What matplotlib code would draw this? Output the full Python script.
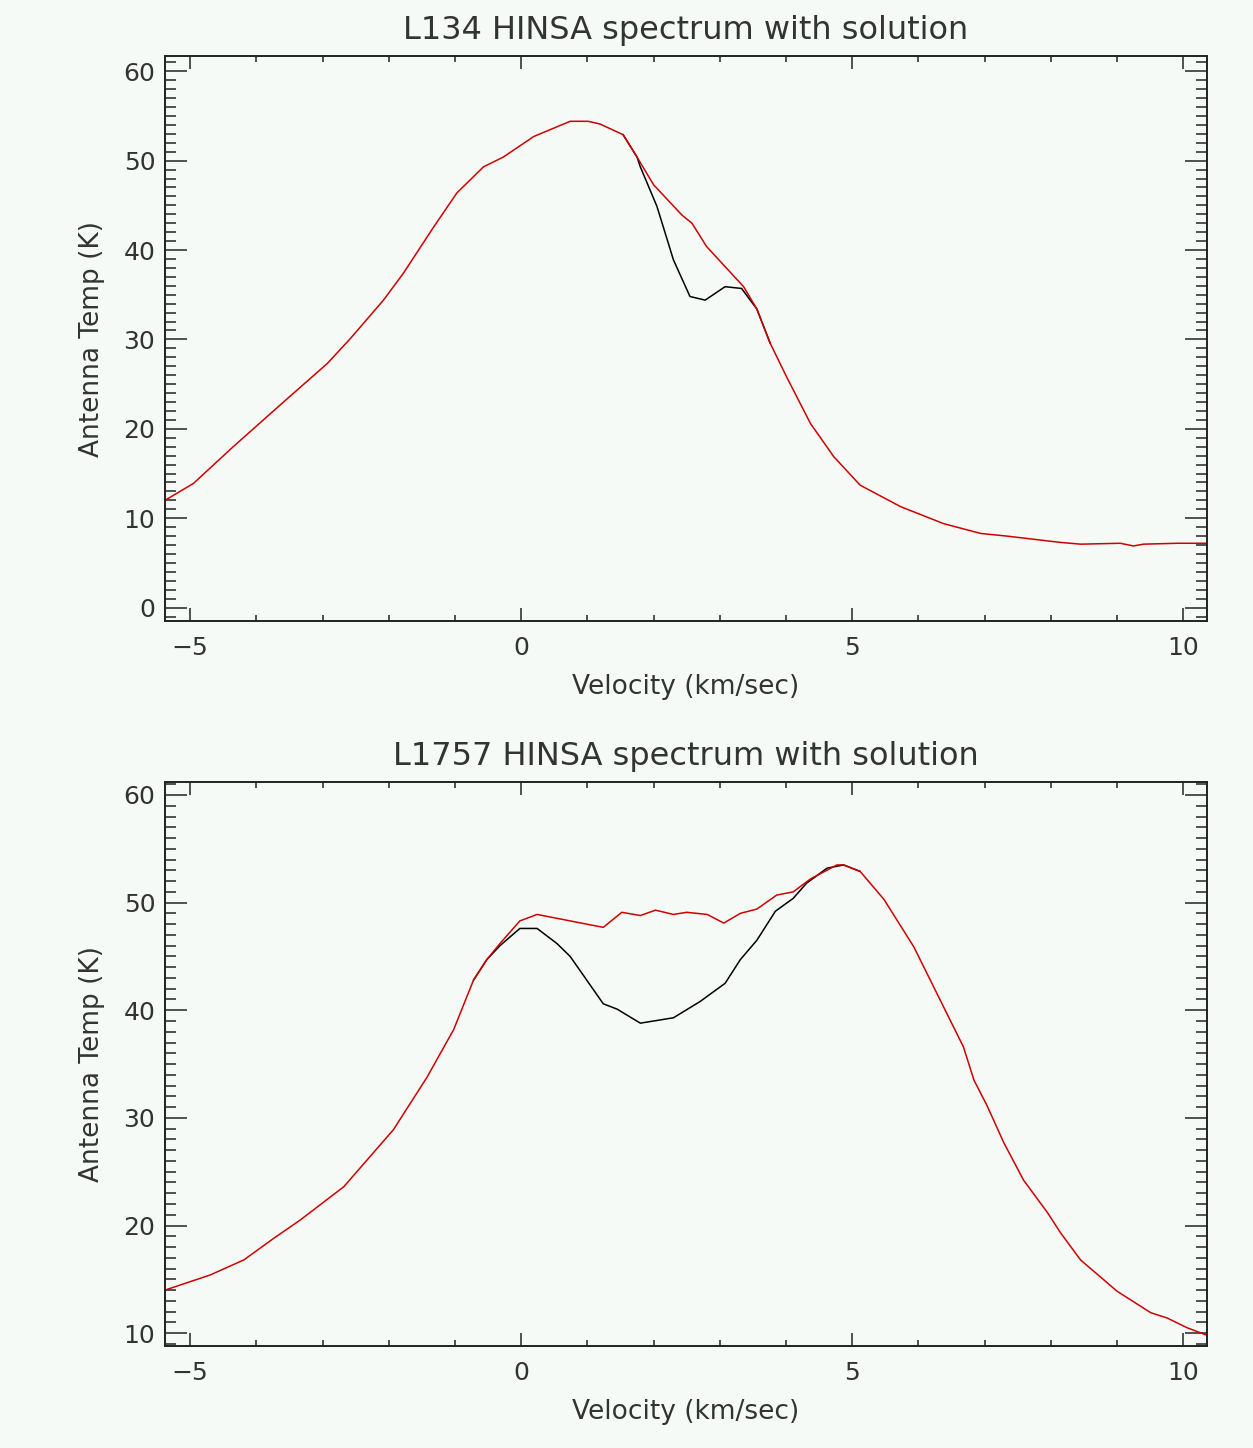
import matplotlib
matplotlib.use("Agg")
import matplotlib.pyplot as plt
from matplotlib.ticker import MultipleLocator

# L134: solution (red) and observed spectrum inside the HINSA dip (black)
v_l134 = [-5.38, -4.95, -4.35, -3.59, -2.93, -2.58, -2.08, -1.78, -1.32, -0.97,
          -0.57, -0.27, 0.19, 0.74, 1.01, 1.19, 1.54, 1.75, 2.00, 2.43,
          2.58, 2.80, 3.36, 3.56, 3.76, 4.01, 4.37, 4.72, 5.12, 5.73,
          6.38, 6.94, 7.34, 8.14, 8.45, 9.05, 9.25, 9.40, 9.91, 10.36]
fit_l134 = [12.0, 13.9, 18.0, 23.0, 27.3, 30.1, 34.4, 37.4, 42.6, 46.4,
            49.3, 50.4, 52.7, 54.4, 54.4, 54.1, 52.9, 50.4, 47.3, 43.9,
            43.0, 40.4, 35.9, 33.4, 29.6, 25.8, 20.6, 16.9, 13.7, 11.3,
            9.4, 8.3, 8.0, 7.3, 7.1, 7.2, 6.9, 7.1, 7.2, 7.2]
v_l134_obs = [1.54, 1.75, 1.80, 2.05, 2.30, 2.55, 2.78, 3.08, 3.33, 3.56, 3.76]
obs_l134 = [52.9, 50.4, 49.3, 44.9, 38.9, 34.8, 34.4, 35.9, 35.7, 33.4, 29.6]

# L1757
v_l1757 = [-5.38, -4.70, -4.19, -3.74, -3.34, -2.68, -1.93, -1.42, -1.02, -0.72,
           -0.52, -0.32, -0.02, 0.24, 1.24, 1.52, 1.80, 2.03, 2.30, 2.50,
           2.81, 3.06, 3.31, 3.56, 3.86, 4.11, 4.37, 4.77, 4.87, 5.12,
           5.48, 5.93, 6.18, 6.43, 6.68, 6.84, 7.04, 7.29, 7.59, 7.95,
           8.15, 8.45, 9.00, 9.51, 9.76, 10.06, 10.36]
fit_l1757 = [14.0, 15.4, 16.8, 18.8, 20.5, 23.6, 28.9, 33.8, 38.2, 42.8,
             44.7, 46.2, 48.3, 48.9, 47.7, 49.1, 48.8, 49.3, 48.9, 49.1,
             48.9, 48.1, 49.0, 49.4, 50.7, 51.0, 52.2, 53.5, 53.5, 52.9,
             50.3, 45.9, 42.8, 39.7, 36.6, 33.5, 31.1, 27.7, 24.2, 21.2,
             19.3, 16.8, 13.9, 11.9, 11.4, 10.5, 9.8]
v_l1757_obs = [-0.72, -0.52, -0.32, -0.02, 0.24, 0.54, 0.74, 1.24, 1.45, 1.80,
               2.30, 2.70, 3.08, 3.31, 3.56, 3.84, 4.11, 4.31, 4.62, 4.87, 5.12]
obs_l1757 = [42.8, 44.7, 46.0, 47.6, 47.6, 46.2, 45.0, 40.6, 40.1, 38.8,
             39.3, 40.8, 42.5, 44.7, 46.5, 49.2, 50.4, 51.8, 53.2, 53.5, 52.9]

titles = ["L134 HINSA spectrum with solution", "L1757 HINSA spectrum with solution"]
ylims = [(-1.5, 61.7), (8.8, 61.2)]
xlim = (-5.38, 10.36)

bg = "#f5faf6"
ink = "#222222"

fig = plt.figure(figsize=(12.53, 14.48), dpi=100, facecolor=bg)
ax1 = fig.add_axes([0.1317, 0.5711, 0.8316, 0.3902])
ax2 = fig.add_axes([0.1317, 0.0704, 0.8316, 0.3895])

panels = [(ax1, v_l134, fit_l134, v_l134_obs, obs_l134),
          (ax2, v_l1757, fit_l1757, v_l1757_obs, obs_l1757)]

for i, (ax, v, fit, vo, obs) in enumerate(panels):
    ax.set_facecolor(bg)
    ax.plot(vo, obs, color="black", lw=1.1)
    ax.plot(v, fit, color="#d00000", lw=1.1)
    ax.set_xlim(*xlim)
    ax.set_ylim(*ylims[i])

    ax.xaxis.set_major_locator(MultipleLocator(5))
    ax.xaxis.set_minor_locator(MultipleLocator(1))
    ax.yaxis.set_major_locator(MultipleLocator(10))
    ax.yaxis.set_minor_locator(MultipleLocator(1))
    ax.tick_params(which="both", direction="in", top=True, right=True,
                   color=ink, width=1.1, labelsize=18, labelcolor="#333333")
    ax.tick_params(axis="x", which="major", length=9.5, pad=11)
    ax.tick_params(axis="x", which="minor", length=4.5)
    ax.tick_params(axis="y", which="major", length=16, pad=7)
    ax.tick_params(axis="y", which="minor", length=8)
    for s in ax.spines.values():
        s.set_linewidth(1.4)
        s.set_color(ink)

    ax.set_title(titles[i], fontsize=23, color="#333333", pad=12)
    ax.set_xlabel("Velocity (km/sec)", fontsize=19, color="#333333")
    ax.set_ylabel("Antenna Temp (K)", fontsize=19, color="#333333")
    ax.xaxis.set_label_coords(0.5, -0.094)
    ax.yaxis.set_label_coords(-0.0575, 0.5)

fig.savefig("out.png", dpi=100, facecolor=bg)
